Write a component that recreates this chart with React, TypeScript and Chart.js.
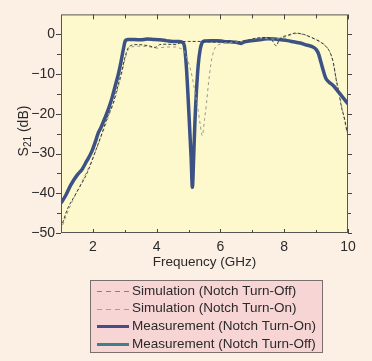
import { useEffect, useRef } from "react";
import { Chart, registerables } from "chart.js";

Chart.register(...registerables);

// ---- data ----
const xTicks = [2, 4, 6, 8, 10];
const xMinorTicks = [3, 5, 7, 9];
const yTicks = [0, -10, -20, -30, -40, -50];
const yMinorTicks = [-5, -15, -25, -35, -45];

const simOffFreq = [1.05, 1.2, 1.44, 1.84, 2.1, 2.28, 2.45, 2.63, 2.75, 2.9, 3.0, 3.1, 3.2, 3.4, 3.6, 3.8, 3.95, 4.1, 4.3, 4.6, 4.8, 5.0, 5.3, 5.6, 5.9, 6.2, 6.5, 6.8, 7.1, 7.4, 7.6, 7.75, 7.85, 8.1, 8.35, 8.6, 8.9, 9.1, 9.3, 9.45, 9.55, 9.62, 9.72, 9.8, 9.9, 9.97, 10.0];
const simOffDb = [-47.5, -44, -40.5, -34.5, -29, -25, -21, -17.5, -14, -9.5, -6, -3.5, -2.8, -2.6, -2.7, -3.0, -3.3, -2.6, -2.5, -2.6, -1.9, -1.8, -1.8, -1.9, -2.0, -1.8, -1.9, -1.6, -1.0, -0.8, -1.3, -2.9, -1.2, -0.3, 0.3, 0, -1, -1.8, -3, -4.8, -7.5, -11, -15, -18.5, -21.5, -24.5, -25];

const simOnFreq = [1.05, 1.3, 1.6, 1.9, 2.2, 2.5, 2.7, 2.9, 3.0, 3.1, 3.2, 3.5, 3.8, 4.0, 4.3, 4.6, 4.75, 4.85, 4.95, 5.05, 5.12, 5.2, 5.3, 5.37, 5.43, 5.5, 5.56, 5.63, 5.7, 5.76, 5.85, 5.95, 6.1, 6.4, 6.7, 7.0, 7.3, 7.6, 7.9, 8.2, 8.4, 8.7, 9.0, 9.2, 9.4, 9.5, 9.6, 9.7, 9.8, 9.9, 10.0];
const simOnDb = [-48, -43, -38, -33, -27, -20.5, -16, -10, -6.5, -4, -3.2, -3.0, -3.2, -3.5, -3.2, -3.2, -3.6, -4, -6, -8.5, -11, -14.5, -19, -23, -25.5, -21.5, -17.5, -12, -7.5, -5, -3.2, -2.6, -2.2, -2.0, -1.7, -1.2, -1.0, -1.2, -1.0, -0.2, 0.2, -0.3, -1.3, -2.2, -4, -6, -10, -14, -18, -22, -26];

const measOnFreq = [1.0, 1.15, 1.3, 1.5, 1.66, 1.8, 1.97, 2.1, 2.16, 2.25, 2.38, 2.5, 2.6, 2.7, 2.8, 2.88, 2.95, 3.02, 3.1, 3.3, 3.5, 3.7, 3.9, 4.1, 4.3, 4.5, 4.7, 4.8, 4.87, 4.93, 4.98, 5.03, 5.08, 5.12, 5.16, 5.2, 5.25, 5.3, 5.36, 5.42, 5.5, 5.7, 5.9, 6.1, 6.3, 6.5, 6.65, 6.75, 6.9, 7.1, 7.3, 7.5, 7.7, 7.9, 8.1, 8.3, 8.5, 8.7, 8.9, 9.0, 9.08, 9.15, 9.22, 9.3, 9.4, 9.55, 9.7, 9.85, 10.0];
const measOnDb = [-42.5, -40.5, -38, -35.5, -34, -32, -29.4, -26.5, -25, -23.5, -21, -18.5, -16, -13, -10, -7, -4, -1.6, -1.3, -1.3, -1.4, -1.2, -1.3, -1.4, -1.6, -1.8, -1.8, -2.0, -3, -8, -15, -23, -31, -38.5, -31, -22, -14, -8, -4, -2.2, -1.7, -1.6, -1.6, -1.8, -1.9, -2.0, -2.3, -1.9, -1.7, -1.5, -1.3, -1.1, -1.2, -1.4, -1.6, -1.9, -2.2, -2.7, -3.2, -3.8, -5, -7, -9, -11, -12, -13, -14.5, -16, -17.5];

// Measurement with notch turned off is hidden beneath the other traces in the reference
const measOffFreq: number[] = [];
const measOffDb: number[] = [];

const seriesLabels = [
  "Simulation (Notch Turn-Off)",
  "Simulation (Notch Turn-On)",
  "Measurement (Notch Turn-On)",
  "Measurement (Notch Turn-Off)",
];

const pts = (xs: number[], ys: number[]) => xs.map((x, i) => ({ x, y: ys[i] }));

const FONT = "'Liberation Sans', Arial, Helvetica, sans-serif";
const TEXT = "#2a2a2a";

const decorPlugin = {
  id: "decor",
  beforeDraw(chart: any) {
    const { ctx, chartArea: a, width, height } = chart;
    ctx.save();
    ctx.fillStyle = "#fcefe4";
    ctx.fillRect(0, 0, width, height);
    ctx.fillStyle = "#fdf9cc";
    ctx.fillRect(a.left, a.top, a.right - a.left, a.bottom - a.top);
    ctx.restore();
  },
  afterDraw(chart: any) {
    const { ctx, chartArea: a } = chart;
    const xs = chart.scales.x;
    const ys = chart.scales.y;
    ctx.save();
    // frame
    ctx.strokeStyle = "#555555";
    ctx.lineWidth = 1;
    ctx.strokeRect(a.left + 0.5, a.top + 0.5, a.right - a.left - 1, a.bottom - a.top - 1);
    ctx.strokeStyle = "#444444";
    ctx.beginPath();
    const xtick = (v: number, len: number) => {
      const px = Math.round(xs.getPixelForValue(v)) + 0.5;
      ctx.moveTo(px, a.top);
      ctx.lineTo(px, a.top + len);
      ctx.moveTo(px, a.bottom);
      ctx.lineTo(px, a.bottom - len + 1);
    };
    const ytick = (v: number, len: number) => {
      const py = Math.round(ys.getPixelForValue(v)) + 0.5;
      ctx.moveTo(a.left, py);
      ctx.lineTo(a.left - len, py);
      ctx.moveTo(a.right, py);
      ctx.lineTo(a.right + len - 1, py);
    };
    xTicks.forEach((v) => xtick(v, 5));
    xMinorTicks.forEach((v) => xtick(v, 4));
    yTicks.forEach((v) => ytick(v, 5));
    yMinorTicks.forEach((v) => ytick(v, 4));
    ctx.stroke();

    // y title S21 (dB), rotated
    ctx.fillStyle = TEXT;
    ctx.translate(24, 131);
    ctx.rotate(-Math.PI / 2);
    ctx.textBaseline = "middle";
    const s = "S";
    const sub = "21";
    const rest = " (dB)";
    ctx.font = `14px ${FONT}`;
    const wS = ctx.measureText(s).width;
    const wRest = ctx.measureText(rest).width;
    ctx.font = `10px ${FONT}`;
    const wSub = ctx.measureText(sub).width;
    const total = wS + wSub + wRest;
    let x0 = -total / 2;
    ctx.textAlign = "left";
    ctx.font = `14px ${FONT}`;
    ctx.fillText(s, x0, 0);
    x0 += wS;
    ctx.font = `10px ${FONT}`;
    ctx.fillText(sub, x0, 4);
    x0 += wSub;
    ctx.font = `14px ${FONT}`;
    ctx.fillText(rest, x0, 0);
    ctx.setTransform(1, 0, 0, 1, 0, 0);

    // legend box
    const bx = 90, by = 280, bw = 233, bh = 73;
    ctx.fillStyle = "#f7d5d5";
    ctx.fillRect(bx, by, bw, bh);
    ctx.strokeStyle = "#7a6f6f";
    ctx.lineWidth = 1;
    ctx.strokeRect(bx + 0.5, by + 0.5, bw - 1, bh - 1);
    const rows = [291, 308.5, 326, 344];
    chart.data.datasets.forEach((ds: any, i: number) => {
      const y = rows[i];
      ctx.beginPath();
      ctx.strokeStyle = ds.legendColor || ds.borderColor;
      ctx.lineWidth = ds.borderDash && ds.borderDash.length ? 1 : 3;
      ctx.setLineDash(ds.borderDash && ds.borderDash.length ? [5, 4] : []);
      ctx.moveTo(97, Math.round(y) + 0.5);
      ctx.lineTo(129, Math.round(y) + 0.5);
      ctx.stroke();
      ctx.setLineDash([]);
      ctx.fillStyle = TEXT;
      ctx.font = `13.5px ${FONT}`;
      ctx.textAlign = "left";
      ctx.textBaseline = "middle";
      ctx.fillText(ds.label, 132, y);
    });
    ctx.restore();
  },
};

export default function App() {
  const ref = useRef<HTMLCanvasElement | null>(null);
  useEffect(() => {
    document.body.style.margin = "0";
    const canvas = ref.current;
    if (!canvas) return;
    const chart = new Chart(canvas, {
      type: "line",
      data: {
        datasets: [
          {
            label: seriesLabels[0],
            data: pts(simOffFreq, simOffDb),
            borderColor: "#3a3a3a",
            legendColor: "#8a7f80",
            borderWidth: 1,
            borderDash: [3, 2],
            pointRadius: 0,
            cubicInterpolationMode: "monotone",
          } as any,
          {
            label: seriesLabels[1],
            data: pts(simOnFreq, simOnDb),
            borderColor: "#9a9a86",
            legendColor: "#a89a9a",
            borderWidth: 1,
            borderDash: [3, 3],
            pointRadius: 0,
            cubicInterpolationMode: "monotone",
          } as any,
          {
            label: seriesLabels[2],
            data: pts(measOnFreq, measOnDb),
            borderColor: "#3c5284",
            legendColor: "#4a4a88",
            borderWidth: 3.5,
            pointRadius: 0,
            cubicInterpolationMode: "monotone",
          } as any,
          {
            label: seriesLabels[3],
            data: pts(measOffFreq, measOffDb),
            borderColor: "#3f8088",
            borderWidth: 3.5,
            pointRadius: 0,
          } as any,
        ],
      },
      options: {
        responsive: false,
        animation: false,
        layout: { padding: { left: 0, top: 7, right: 24, bottom: 91 } },
        plugins: {
          legend: { display: false },
          tooltip: { enabled: false },
        },
        scales: {
          x: {
            type: "linear",
            min: 1,
            max: 10,
            afterBuildTicks: (scale: any) => {
              scale.ticks = xTicks.map((v) => ({ value: v }));
            },
            afterFit: (scale: any) => {
              scale.height = 37;
            },
            grid: { display: false, drawTicks: false },
            border: { display: false },
            ticks: {
              padding: 6,
              color: TEXT,
              font: { family: FONT, size: 14 },
              maxRotation: 0,
            },
            title: {
              display: true,
              text: "Frequency (GHz)",
              color: TEXT,
              font: { family: FONT, size: 13.5 },
              padding: { top: 0, bottom: 0 },
            },
          },
          y: {
            type: "linear",
            min: -50,
            max: 5,
            afterBuildTicks: (scale: any) => {
              scale.ticks = yTicks.map((v) => ({ value: v }));
            },
            afterFit: (scale: any) => {
              scale.width = 61;
            },
            grid: { display: false, drawTicks: false },
            border: { display: false },
            ticks: {
              padding: 6,
              color: TEXT,
              font: { family: FONT, size: 14 },
              callback: (v: any) => String(v).replace("-", "\u2212"),
            },
          },
        },
      },
      plugins: [decorPlugin],
    } as any);
    return () => chart.destroy();
  }, []);
  return <canvas ref={ref} width={372} height={361} style={{ display: "block", width: 372, height: 361 }} />;
}
